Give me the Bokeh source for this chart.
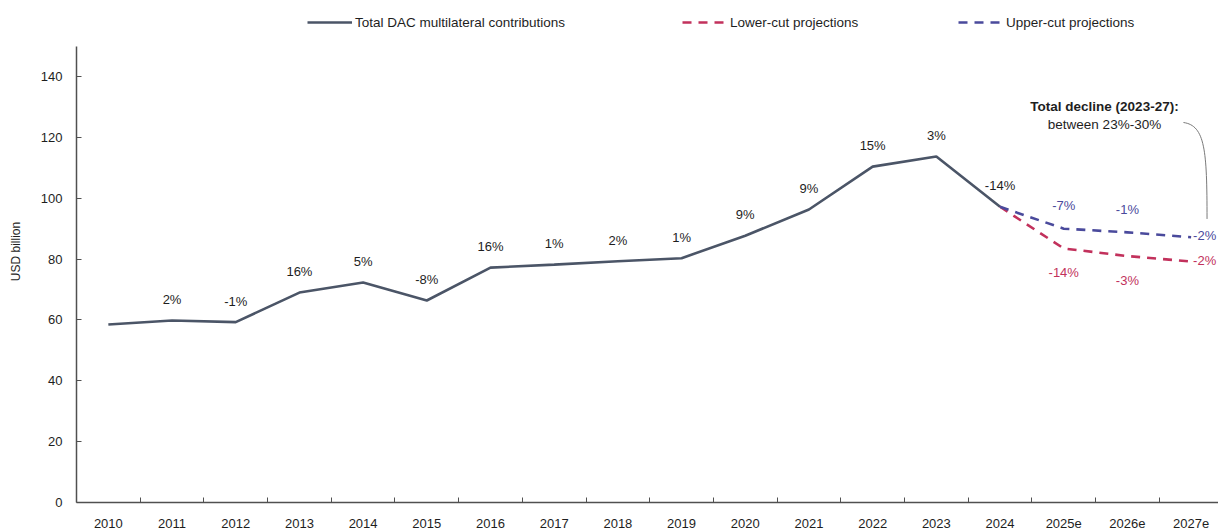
from bokeh.plotting import figure
from bokeh.models import (Range1d, FixedTicker, Legend, LegendItem, ColumnDataSource, Label)
from bokeh.embed import file_html
from bokeh.resources import INLINE
from bokeh.core.properties import value

# ---------------- data ----------------
categories = ["2010", "2011", "2012", "2013", "2014", "2015", "2016", "2017", "2018",
              "2019", "2020", "2021", "2022", "2023", "2024", "2025e", "2026e", "2027e"]

main_categories = categories[:15]
main_values = [58.5, 59.8, 59.3, 69.0, 72.3, 66.4, 77.2, 78.2, 79.3, 80.3, 87.7, 96.3, 110.4, 113.7, 97.2]
main_pct = ["", "2%", "-1%", "16%", "5%", "-8%", "16%", "1%", "2%", "1%", "9%", "9%", "15%", "3%", "-14%"]

proj_categories = ["2024", "2025e", "2026e", "2027e"]
lower_values = [97.2, 83.5, 81.0, 79.2]
lower_pct = ["", "-14%", "-3%", "-2%"]
upper_values = [97.2, 90.0, 88.8, 87.2]
upper_pct = ["", "-7%", "-1%", "-2%"]

y_ticks = [0, 20, 40, 60, 80, 100, 120, 140]
y_axis_max = 150

series_names = ["Total DAC multilateral contributions", "Lower-cut projections", "Upper-cut projections"]
note_title = "Total decline (2023-27):"
note_text = "between 23%-30%"

# ---------------- styles ----------------
FONT = "Liberation Sans"
FS = "13px"
MAIN_C = "#4B5567"
LOW_C = "#C2315C"
UP_C = "#4A4A9C"
AXIS_C = "#505050"
TXT_C = "#1E1E1E"

idx = {c: i for i, c in enumerate(categories)}
mx = [idx[c] for c in main_categories]
px = [idx[c] for c in proj_categories]

p = figure(width=1218, height=530, output_backend="svg", toolbar_location=None,
           x_range=Range1d(-0.5, 17.43), y_range=Range1d(0, 165.0),
           min_border_left=76, min_border_right=0, min_border_top=0, min_border_bottom=28)
p.outline_line_color = None
p.xgrid.visible = False
p.ygrid.visible = False
p.background_fill_color = "white"
p.border_fill_color = "white"

r_main = p.line(mx, main_values, line_color=MAIN_C, line_width=2.6)
r_low = p.line(px, lower_values, line_color=LOW_C, line_width=2.6, line_dash="9 7")
r_up = p.line(px, upper_values, line_color=UP_C, line_width=2.6, line_dash="9 7")

# percentage labels
src_main = ColumnDataSource(dict(x=mx, y=main_values, t=main_pct))
p.text("x", "y", text="t", source=src_main, text_align="center", text_baseline="middle",
       y_offset=-21, text_font=value(FONT), text_font_size=FS, text_color=TXT_C)

src_up = ColumnDataSource(dict(x=px[1:3], y=upper_values[1:3], t=upper_pct[1:3]))
p.text("x", "y", text="t", source=src_up, text_align="center", text_baseline="middle",
       y_offset=-23, text_font=value(FONT), text_font_size=FS, text_color=UP_C)
src_low = ColumnDataSource(dict(x=px[1:3], y=lower_values[1:3], t=lower_pct[1:3]))
p.text("x", "y", text="t", source=src_low, text_align="center", text_baseline="middle",
       y_offset=24, text_font=value(FONT), text_font_size=FS, text_color=LOW_C)

src_up_end = ColumnDataSource(dict(x=px[3:], y=upper_values[3:], t=upper_pct[3:]))
p.text("x", "y", text="t", source=src_up_end, text_align="left", text_baseline="middle",
       x_offset=2, y_offset=-2, text_font=value(FONT), text_font_size=FS, text_color=UP_C)
src_low_end = ColumnDataSource(dict(x=px[3:], y=lower_values[3:], t=lower_pct[3:]))
p.text("x", "y", text="t", source=src_low_end, text_align="left", text_baseline="middle",
       x_offset=2, y_offset=-1, text_font=value(FONT), text_font_size=FS, text_color=LOW_C)

# annotation
note_x = 15.64
p.add_layout(Label(x=note_x, y=130.1, text=note_title, text_align="center", text_baseline="middle",
                   text_font=FONT, text_font_size="13.5px", text_font_style="bold", text_color=TXT_C))
p.add_layout(Label(x=note_x, y=124.2, text=note_text, text_align="center", text_baseline="middle",
                   text_font=FONT, text_font_size="13.5px", text_color=TXT_C))
end_x = px[-1] + 0.25
p.bezier(x0=[16.88], y0=[124.9], x1=[end_x], y1=[upper_values[-1] + 6],
         cx0=[17.22], cy0=[123.9], cx1=[end_x], cy1=[115.7],
         line_color="#7A7A7A", line_width=1)

# axes
xa = p.xaxis[0]
xa.ticker = FixedTicker(ticks=list(range(len(categories))),
                        minor_ticks=[i + 0.5 for i in range(len(categories) - 1)])
xa.major_label_overrides = {i: c for i, c in enumerate(categories)}
xa.major_tick_line_color = None
xa.minor_tick_in = 5
xa.minor_tick_out = 0
xa.minor_tick_line_color = AXIS_C
xa.axis_line_color = AXIS_C
xa.axis_line_width = 1.5
xa.major_label_standoff = 10
xa.major_label_text_font = FONT
xa.major_label_text_font_size = FS
xa.major_label_text_color = TXT_C

ya = p.yaxis[0]
ya.ticker = FixedTicker(ticks=y_ticks, minor_ticks=[])
ya.bounds = (0, y_axis_max)
ya.major_tick_in = 5
ya.major_tick_out = 0
ya.major_tick_line_color = AXIS_C
ya.minor_tick_line_color = None
ya.axis_line_color = AXIS_C
ya.axis_line_width = 1.5
ya.major_label_standoff = 14
ya.major_label_text_font = FONT
ya.major_label_text_font_size = FS
ya.major_label_text_color = TXT_C
ya.axis_label = "USD billion"
ya.axis_label_text_font = FONT
ya.axis_label_text_font_size = "12px"
ya.axis_label_text_font_style = "normal"
ya.axis_label_text_color = TXT_C
ya.axis_label_standoff = 15

# legends (three single-item legends placed side by side above the axes)
for name, r, xloc in zip(series_names, [r_main, r_low, r_up], [231, 606, 882]):
    leg = Legend(items=[LegendItem(label=name, renderers=[r])], location=(xloc, 470),
                 orientation="horizontal", glyph_width=45, glyph_height=20, label_standoff=3,
                 padding=0, margin=0, border_line_color=None, background_fill_alpha=0,
                 label_text_font=FONT, label_text_font_size="13.5px", label_text_color=TXT_C)
    p.add_layout(leg)

open("out.html", "w").write(file_html(p, INLINE))
